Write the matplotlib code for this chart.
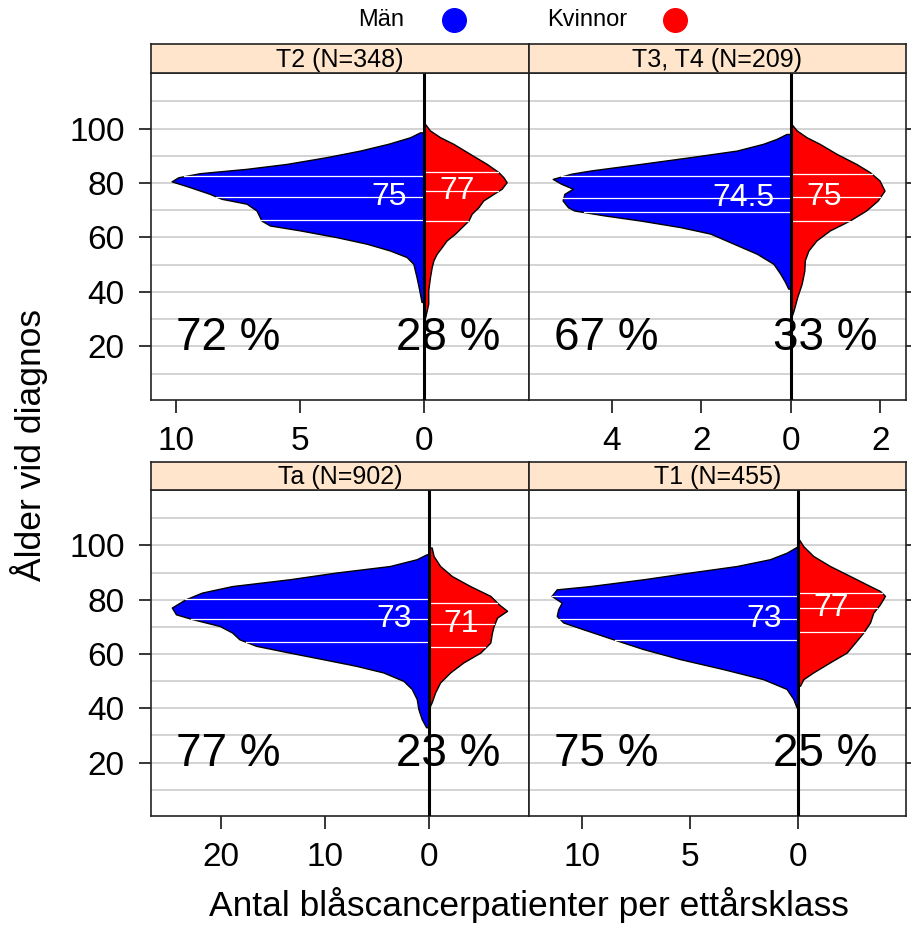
import numpy as np
import matplotlib.pyplot as plt
from matplotlib.lines import Line2D
from matplotlib.ticker import FuncFormatter
from matplotlib.transforms import blended_transform_factory

plt.rcParams['font.family'] = ['Liberation Sans', 'DejaVu Sans']

# Panels in order: top-left, top-right, bottom-left, bottom-right
panel_titles = ["T2 (N=348)", "T3, T4 (N=209)", "Ta (N=902)", "T1 (N=455)"]
pct_men = [72, 67, 77, 75]
pct_women = [28, 33, 23, 25]
median_men = [75, 74.5, 73, 73]
median_women = [77, 75, 71, 77]
q1_men = [66.3, 69.3, 64.4, 65.2]
q3_men = [82.5, 82.4, 80.1, 81.4]
q1_women = [66.2, 66.2, 62.4, 68.1]
q3_women = [84.0, 83.2, 78.9, 82.6]
x_ticks = [[-10, -5, 0], [-4, -2, 0, 2], [-20, -10, 0], [-10, -5, 0]]
x_limits = [(-11.0, 4.23), (-5.85, 2.57), (-26.7, 9.66), (-12.43, 4.97)]

# patients per one-year age class (smoothed), men and women per panel
t2_men_age = [36.3, 40.6, 45.4, 50.3, 52.8, 55.2, 57.7, 60.1, 62.6, 64.4, 66.2, 69.9,
              72.4, 74.2, 76.0, 78.5, 80.6, 82.1, 83.6, 85.2, 87.0, 89.5, 91.9, 94.4, 96.8, 98.6]
t2_men_n = [0.1, 0.19, 0.3, 0.43, 0.7, 1.37, 2.31, 3.52, 5.0, 6.21, 6.55, 6.75,
            7.15, 8.16, 8.63, 9.44, 10.17, 9.9, 9.03, 7.15, 5.54, 3.92, 2.58, 1.44, 0.56, 0.16]
t2_women_age = [30.8, 35.7, 40.6, 45.4, 49.1, 51.6, 54.0, 56.4, 58.9, 61.4, 63.8, 66.2, 68.7,
                71.1, 73.6, 76.0, 77.9, 80.3, 82.1, 84.0, 87.0, 90.7, 94.4, 96.8, 99.3, 101.7]
t2_women_n = [0.05, 0.17, 0.17, 0.24, 0.31, 0.38, 0.51, 0.71, 0.91, 1.25, 1.52, 1.79, 1.92,
              2.19, 2.39, 2.8, 3.13, 3.33, 3.2, 3.0, 2.53, 1.85, 1.18, 0.65, 0.24, 0.04]

t34_men_age = [41.2, 43.6, 46.7, 50.3, 54.0, 57.7, 61.4, 63.8, 66.2, 68.1, 69.9, 71.1, 73.6,
               76.0, 77.9, 79.7, 81.5, 83.4, 84.6, 87.0, 89.5, 91.9, 94.4, 96.2, 98.0]
t34_men_n = [0.06, 0.13, 0.24, 0.39, 0.76, 1.28, 1.8, 2.47, 3.36, 4.17, 4.84, 4.98, 5.1,
             5.06, 4.87, 5.13, 5.32, 4.91, 4.47, 3.36, 2.24, 1.21, 0.62, 0.32, 0.1]
t34_women_age = [30.8, 33.2, 38.1, 43.0, 47.9, 51.6, 55.2, 58.9, 62.6, 66.2, 69.9, 73.6,
                 77.2, 80.9, 84.0, 87.0, 90.7, 94.4, 96.8, 99.3, 101.7]
t34_women_n = [0.01, 0.06, 0.14, 0.24, 0.3, 0.31, 0.39, 0.57, 0.87, 1.31, 1.68, 1.94,
               2.09, 1.98, 1.76, 1.46, 1.02, 0.64, 0.35, 0.13, 0.01]

ta_men_age = [33.0, 36.0, 39.7, 43.4, 47.1, 50.1, 53.2, 55.6, 58.1, 60.5, 63.0, 65.4, 67.9,
              70.3, 72.8, 74.6, 77.1, 80.1, 82.6, 85.0, 87.5, 90.0, 92.4, 94.9, 96.7]
ta_men_n = [0.24, 0.66, 0.98, 1.14, 1.62, 2.43, 4.37, 6.94, 10.2, 13.4, 16.6, 18.2, 18.9,
            20.1, 22.7, 24.3, 24.7, 23.4, 21.8, 18.9, 13.4, 8.87, 3.72, 1.14, 0.2]
ta_women_age = [40.4, 42.2, 45.8, 49.5, 53.2, 56.9, 60.5, 64.2, 67.9, 70.3, 73.4, 75.9,
                78.3, 81.4, 85.0, 88.7, 92.4, 96.1, 99.2]
ta_women_n = [0.08, 0.3, 0.63, 1.11, 2.08, 3.36, 4.98, 5.94, 6.1, 6.26, 6.59, 7.55,
              6.75, 5.94, 4.0, 2.24, 1.11, 0.48, 0.3]

t1_men_age = [40.3, 43.4, 47.1, 50.7, 54.4, 58.1, 61.8, 65.4, 69.1, 71.6, 74.0, 76.5,
              78.9, 81.4, 83.8, 85.0, 87.5, 90.0, 92.4, 94.9, 97.3, 99.7]
t1_men_n = [0.08, 0.23, 0.54, 1.62, 3.46, 5.46, 7.16, 8.54, 9.93, 10.85, 11.15, 11.08,
            10.92, 11.39, 11.15, 9.62, 7.16, 5.0, 2.84, 1.31, 0.54, 0.02]
t1_women_age = [48.3, 50.7, 53.2, 56.9, 60.5, 64.2, 67.9, 71.6, 75.2, 78.3, 81.4, 83.2,
                85.0, 88.7, 92.4, 96.1, 99.7, 102.2]
t1_women_n = [0.08, 0.23, 0.69, 1.46, 2.23, 2.62, 3.0, 3.31, 3.46, 3.77, 4.0, 3.77,
              3.31, 2.39, 1.46, 0.69, 0.23, 0.03]

men_age = [t2_men_age, t34_men_age, ta_men_age, t1_men_age]
men_n = [t2_men_n, t34_men_n, ta_men_n, t1_men_n]
women_age = [t2_women_age, t34_women_age, ta_women_age, t1_women_age]
women_n = [t2_women_n, t34_women_n, ta_women_n, t1_women_n]

W, H = 912, 931


def box(x0, y0, x1, y1):
    # pixel box (top-left origin) -> figure fraction rect
    return [x0 / W, 1 - y1 / H, (x1 - x0) / W, (y1 - y0) / H]


panel_boxes = [(151, 73, 529, 400), (529, 73, 906, 400),
               (151, 490, 529, 816), (529, 490, 906, 816)]
strip_boxes = [(151, 44, 529, 73), (529, 44, 906, 73),
               (151, 462, 529, 490), (529, 462, 906, 490)]

fig = plt.figure(figsize=(W / 100, H / 100), dpi=100)

for i in range(4):
    ax = fig.add_axes(box(*panel_boxes[i]))
    am = np.array(men_age[i])
    nm = np.array(men_n[i])
    aw = np.array(women_age[i])
    nw = np.array(women_n[i])

    for y in range(10, 120, 10):
        ax.axhline(y, color='#cccccc', lw=1.2, zorder=1)

    ax.fill_betweenx(am, -nm, 0, facecolor='#0000ff', edgecolor='black', lw=1.0, zorder=3)
    ax.fill_betweenx(aw, 0, nw, facecolor='#ff0000', edgecolor='black', lw=1.0, zorder=3)

    # quartiles and median as white lines inside each half
    for q in (q1_men[i], median_men[i], q3_men[i]):
        w = np.interp(q, am, nm)
        ax.plot([-w, 0], [q, q], color='white', lw=0.9, zorder=4)
    for q in (q1_women[i], median_women[i], q3_women[i]):
        w = np.interp(q, aw, nw)
        ax.plot([0, w], [q, q], color='white', lw=0.9, zorder=4)

    ax.axvline(0, color='black', lw=2.2, zorder=5)

    ax.annotate(f"{median_men[i]:g}", (0, median_men[i]), xytext=(-12, 0),
                textcoords='offset points', ha='right', va='center',
                color='white', fontsize=23, zorder=6)
    ax.annotate(f"{median_women[i]:g}", (0, median_women[i]), xytext=(11, 0),
                textcoords='offset points', ha='left', va='center',
                color='white', fontsize=23, zorder=6)

    tr = blended_transform_factory(ax.transAxes, ax.transData)
    ax.text(0.066, 23, f"{pct_men[i]} %", transform=tr, ha='left', va='center',
            fontsize=33, zorder=7)
    ax.text(0.925, 23, f"{pct_women[i]} %", transform=tr, ha='right', va='center',
            fontsize=33, zorder=7)

    ax.set_xlim(*x_limits[i])
    ax.set_ylim(0.3, 120.4)
    ax.set_xticks(x_ticks[i])
    ax.xaxis.set_major_formatter(FuncFormatter(lambda v, p: f"{abs(v):g}"))
    ax.set_yticks([20, 40, 60, 80, 100])
    ax.tick_params(direction='out', length=9, width=1.1, labelsize=24, pad=10)
    if i % 2 == 1:
        ax.yaxis.tick_right()
        ax.tick_params(axis='y', labelright=False)
    for s in ax.spines.values():
        s.set_color('#222222')
        s.set_linewidth(1.2)

    sax = fig.add_axes(box(*strip_boxes[i]))
    sax.set_facecolor('#ffe5cc')
    sax.set_xticks([])
    sax.set_yticks([])
    for s in sax.spines.values():
        s.set_color('#222222')
        s.set_linewidth(1.2)
    sax.text(0.5, 0.45, panel_titles[i], ha='center', va='center', fontsize=18)

# legend along the top
fig.text(404 / W, 1 - 20 / H, "Män", ha='right', va='center', fontsize=17)
fig.add_artist(Line2D([454 / W], [1 - 20 / H], marker='o', markersize=17, color='#0000ff',
                      transform=fig.transFigure))
fig.text(547 / W, 1 - 20 / H, "Kvinnor", ha='left', va='center', fontsize=17)
fig.add_artist(Line2D([675 / W], [1 - 20 / H], marker='o', markersize=17, color='#ff0000',
                      transform=fig.transFigure))

fig.text(529 / W, 1 - 905 / H, "Antal blåscancerpatienter per ettårsklass",
         ha='center', va='center', fontsize=25.5)
fig.text(29 / W, 1 - 445 / H, "Ålder vid diagnos", rotation=90,
         ha='center', va='center', fontsize=25.5)

fig.savefig("out.png", dpi=100)
